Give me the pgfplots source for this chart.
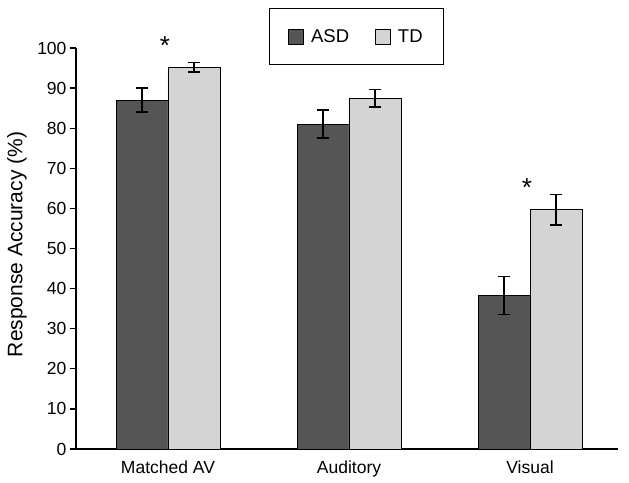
\documentclass[border=0pt]{standalone}
\usepackage{pgfplots}
\pgfplotsset{compat=1.18}
\usepackage{fontspec}
\setmainfont{Liberation Sans}
\definecolor{asd}{HTML}{555555}
\definecolor{td}{HTML}{D4D4D4}
\begin{document}
\begin{tikzpicture}
\begin{axis}[
  scale only axis,
  width=542pt, height=401pt,
  xmin=-0.508, xmax=2.486,
  ymin=0, ymax=100,
  axis x line*=bottom, axis y line*=left,
  axis line style={line width=1.3pt},
  xtick={0,1,2},
  xticklabels={Matched AV, Auditory, Visual},
  x tick style={draw=none},
  x tick label style={yshift=-2pt},
  ytick={0,10,...,100},
  tick align=outside,
  y tick style={line width=1.3pt, black},
  major tick length=6pt,
  /pgf/number format/assume math mode=true,
  tick label style={font=\fontsize{17.5}{20}\selectfont},
  ylabel={Response Accuracy (\%)},
  ylabel style={font=\fontsize{21}{24}\selectfont, at={(axis description cs:-0.1089,0.51)}, anchor=center},
  legend style={at={(0.5175,1.0998)}, anchor=north, legend columns=2,
    draw=black, line width=1pt, inner xsep=19pt, inner ysep=19pt,
    font=\fontsize{18.5}{21}\selectfont,
    /tikz/every even column/.append style={column sep=24pt}},
  legend image code/.code={\draw[#1, line width=0.8pt] (0pt,-7.5pt) rectangle (15pt,7.5pt); \path (20pt,0pt);},
  clip=false,
]
\addplot[ybar, bar width=0.287, bar shift=0, fill=asd, draw=black, line width=0.8pt,
  error bars/.cd, y dir=both, y explicit,
  error bar style={line width=1.5pt, black},
  error mark options={rotate=90, mark size=6pt, line width=1.5pt, black}]
  coordinates {(-0.1435,87) +- (0,3) (0.8565,81) +- (0,3.5) (1.8565,38.3) +- (0,4.7)};
\addlegendentry{ASD}
\addplot[ybar, bar width=0.287, bar shift=0, fill=td, draw=black, line width=0.8pt,
  error bars/.cd, y dir=both, y explicit,
  error bar style={line width=1.5pt, black},
  error mark options={rotate=90, mark size=6pt, line width=1.5pt, black}]
  coordinates {(0.1435,95.2) +- (0,1.2) (1.1435,87.5) +- (0,2.2) (2.1435,59.7) +- (0,3.8)};
\addlegendentry{TD}
\addplot[draw=none, mark=none, forget plot, point meta=explicit symbolic,
  nodes near coords, nodes near coords align={center},
  every node near coord/.append style={font=\fontsize{26}{28}\selectfont, anchor=center}]
  coordinates {(-0.017,100.5)[*] (1.983,65.2)[*]};
\end{axis}
\pgfresetboundingbox
\path ([shift={(-76pt,-34pt)}]current axis.south west) rectangle ([shift={(11pt,48pt)}]current axis.north east);
\end{tikzpicture}
\end{document}
